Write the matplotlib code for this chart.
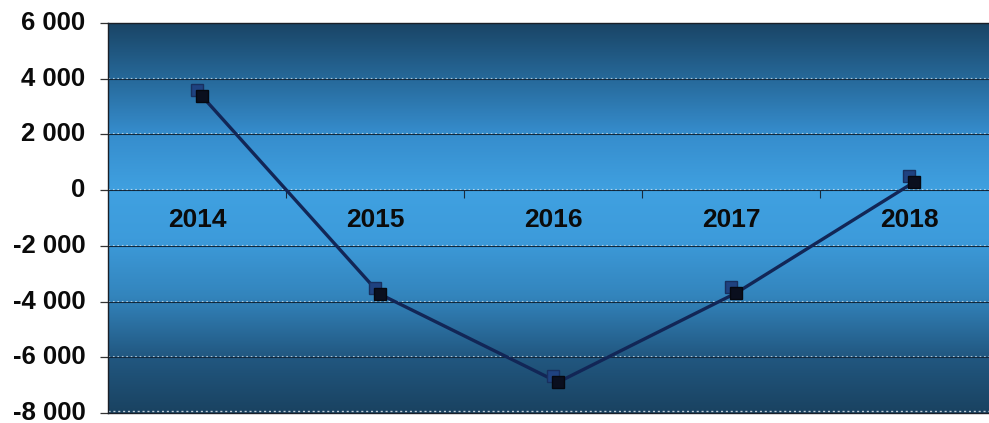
import numpy as np
import matplotlib
matplotlib.use("Agg")
import matplotlib.pyplot as plt
from matplotlib.colors import LinearSegmentedColormap
from matplotlib.transforms import offset_copy, ScaledTranslation

# Yearly balance values
years = ["2014", "2015", "2016", "2017", "2018"]
values = [3590, -3520, -6680, -3480, 500]
y_ticks = [-8000, -6000, -4000, -2000, 0, 2000, 4000, 6000]
y_labels = ["-8 000", "-6 000", "-4 000", "-2 000", "0", "2 000", "4 000", "6 000"]

W, H = 989, 423
fig = plt.figure(figsize=(W / 100, H / 100), dpi=100)
fig.patch.set_facecolor("white")

left, right, top, bottom = 108, 998, 23, 413
ax = fig.add_axes([left / W, 1 - bottom / H, (right - left) / W, (bottom - top) / H])

ymin, ymax = -8000, 6000
ax.set_xlim(-0.5, len(years) - 0.5)
ax.set_ylim(ymin, ymax)

# vertical gradient background: dark at the edges, light blue in the middle
stops = [
    (0.00, (0.10, 0.26, 0.38)),
    (0.14, (0.13, 0.34, 0.50)),
    (0.30, (0.20, 0.52, 0.74)),
    (0.45, (0.24, 0.61, 0.86)),
    (0.57, (0.25, 0.63, 0.88)),
    (0.72, (0.21, 0.55, 0.80)),
    (0.86, (0.15, 0.41, 0.60)),
    (1.00, (0.10, 0.27, 0.40)),
]
cmap = LinearSegmentedColormap.from_list("band", stops)
grad = np.linspace(0, 1, 256).reshape(-1, 1)
ax.imshow(grad, cmap=cmap, aspect="auto", origin="lower",
          extent=[-0.5, len(years) - 0.5, ymin, ymax], zorder=0)

# gridlines: dark rule with a faint light dotted edge
yaxis_tr = ax.get_yaxis_transform()
lift = offset_copy(yaxis_tr, fig=fig, x=0, y=1.0, units="dots")
for t in y_ticks[1:-1]:
    ax.plot([0, 1], [t, t], color="#10263a", lw=0.8, zorder=1, transform=yaxis_tr)
    ax.plot([0, 1], [t, t], color="#e0eef8", lw=0.8, ls=(0, (1.5, 2.5)), alpha=0.7,
            zorder=1, transform=lift)
ax.plot([0, 1], [ymin, ymin], color="#e8eef4", lw=1.0, ls=(0, (1.5, 2.0)), alpha=0.8,
        zorder=1, transform=offset_copy(yaxis_tr, fig=fig, x=0, y=1.5, units="dots"))

x = np.arange(len(years))

# series: line and squares with a dark drop shadow
shadow = offset_copy(ax.transData, fig=fig, x=5, y=-6, units="dots")
ax.plot(x, values, color="#122656", lw=2.4, zorder=3, transform=shadow)
ax.plot(x, values, ls="none", marker="s", ms=8.5, color="#1f4280",
        markeredgecolor="#18305f", zorder=4)
ax.plot(x, values, ls="none", marker="s", ms=8.5, color="#0a0f1e",
        markeredgecolor="#05080f", zorder=5, transform=shadow)

# category labels sit just below the zero line
for i, yr in enumerate(years):
    ax.annotate(yr, (i, 0), xytext=(0, -30), textcoords="offset pixels",
                ha="center", va="center", fontsize=19, fontweight="bold",
                family="Liberation Sans", color="#0b0b0b", zorder=6)

# small ticks on the zero axis between categories
tick_tr = offset_copy(ax.transData, fig=fig, x=0, y=-4, units="dots")
for b in np.arange(0.5, len(years) - 0.5, 1.0):
    ax.plot([b], [0], marker="|", ms=6, color="#1a2a3a", mew=0.8,
            transform=tick_tr, zorder=2)

ax.set_xticks([])
ax.set_yticks(y_ticks)
ax.set_yticklabels(y_labels, fontsize=18.5, fontweight="bold", family="Liberation Sans",
                   color="#0b0b0b")
ax.tick_params(axis="y", direction="out", length=5.8, width=0.9, color="#333333", pad=10.5)
nudge = ScaledTranslation(0, 2.5 / 100, fig.dpi_scale_trans)
for lbl in ax.get_yticklabels():
    lbl.set_transform(lbl.get_transform() + nudge)

for s in ["left", "top", "bottom"]:
    ax.spines[s].set_color("#1a1f28")
    ax.spines[s].set_linewidth(1.0)
ax.spines["right"].set_visible(False)

fig.savefig("out.png", dpi=100, facecolor="white")
